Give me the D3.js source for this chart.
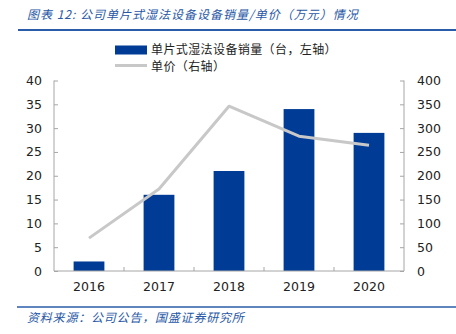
<!DOCTYPE html>
<html>
<head>
<meta charset="utf-8">
<script src="https://cdn.jsdelivr.net/npm/d3@7"></script>
<style>
  html, body { margin: 0; padding: 0; background: #fff; }
  svg { display: block; }
</style>
</head>
<body>
<svg id="chart" width="456" height="334"></svg>
<script>
// Sales volume (units, left axis) and unit price (10k CNY, right axis)
const years = ["2016", "2017", "2018", "2019", "2020"];
const volume = [2, 16, 21, 34, 29];
const price = [69, 172, 346, 283, 264];
const leftTicks = [0, 5, 10, 15, 20, 25, 30, 35, 40];
const rightTicks = [0, 50, 100, 150, 200, 250, 300, 350, 400];

const titleText = "图表 12:  公司单片式湿法设备设备销量/单价（万元）情况";
const sourceText = "资料来源：公司公告，国盛证券研究所";
const legendBar = "单片式湿法设备销量（台，左轴）";
const legendLine = "单价（右轴）";

const blue = "#003c96";
const gray = "#c8c8c8";
const axisGray = "#a6a6a6";
const titleBlue = "#2757a6";
const cjk = "'Noto Sans CJK SC', sans-serif";
const numFont = "'DejaVu Sans', sans-serif";

const svg = d3.select("#chart");
const plot = { left: 54, right: 404, top: 80.5, bottom: 271 };

const x = d3.scaleBand().domain(years).range([plot.left, plot.right]).paddingInner(0.56).paddingOuter(0.28);
const xc = d3.scalePoint().domain(years).range([plot.left, plot.right]).padding(0.5);
const yL = d3.scaleLinear().domain([0, 40]).range([plot.bottom, plot.top]);
const yR = d3.scaleLinear().domain([0, 400]).range([plot.bottom, plot.top]);

// Header
svg.append("text").attr("x", 27).attr("y", 19)
  .attr("font-family", cjk).attr("font-size", 12).attr("font-style", "italic")
  .attr("letter-spacing", 1).attr("fill", titleBlue).text(titleText);
svg.append("line").attr("x1", 18).attr("x2", 456).attr("y1", 30).attr("y2", 30)
  .attr("stroke", "#2a5caa").attr("stroke-width", 2);

// Bars
svg.append("g").selectAll("rect").data(years).join("rect")
  .attr("x", d => x(d)).attr("width", x.bandwidth())
  .attr("y", (d, i) => yL(volume[i]))
  .attr("height", (d, i) => plot.bottom - yL(volume[i]))
  .attr("fill", blue);

// Price line
svg.append("path")
  .datum(years.map((d, i) => [xc(d), yR(price[i])]))
  .attr("d", d3.line())
  .attr("fill", "none").attr("stroke", gray).attr("stroke-width", 3)
  .attr("stroke-linejoin", "round");

// Axes
const gL = svg.append("g").attr("transform", `translate(${plot.left},0)`)
  .call(d3.axisRight(yL).tickValues(leftTicks).tickSize(4).tickFormat(d3.format("d")));
gL.selectAll("text").attr("x", -12).attr("text-anchor", "end");
const gR = svg.append("g").attr("transform", `translate(${plot.right},0)`)
  .call(d3.axisLeft(yR).tickValues(rightTicks).tickSize(4).tickFormat(d3.format("d")));
gR.selectAll("text").attr("x", 13).attr("text-anchor", "start");
const gB = svg.append("g").attr("transform", `translate(0,${plot.bottom})`)
  .call(d3.axisBottom(x).tickSize(0));
gB.selectAll("text").attr("y", 11).attr("dy", "0.71em");
// category separators on the x axis
gB.selectAll(".sep").data(years.slice(1)).join("line")
  .attr("class", "sep")
  .attr("x1", d => xc(d) - xc.step() / 2).attr("x2", d => xc(d) - xc.step() / 2)
  .attr("y1", 0).attr("y2", -4).attr("stroke", axisGray);

[gL, gR, gB].forEach(g => {
  g.selectAll(".domain").attr("stroke", axisGray);
  g.selectAll(".tick line").attr("stroke", axisGray);
  g.selectAll("text").attr("font-family", numFont).attr("font-size", 12.5).attr("fill", "#222");
});
gL.select(".domain").attr("d", `M0,${plot.top}V${plot.bottom}`);
gR.select(".domain").attr("d", `M0,${plot.top}V${plot.bottom}`);
gB.select(".domain").attr("d", `M${plot.left},0H${plot.right}`);

// Legend
const lg = svg.append("g");
lg.append("rect").attr("x", 115).attr("y", 45.5).attr("width", 32).attr("height", 9).attr("fill", blue);
lg.append("text").attr("x", 151).attr("y", 54).attr("font-family", cjk).attr("font-size", 12)
  .attr("letter-spacing", 0.4).attr("fill", "#222").text(legendBar);
lg.append("line").attr("x1", 115).attr("x2", 147).attr("y1", 65.5).attr("y2", 65.5)
  .attr("stroke", gray).attr("stroke-width", 3);
lg.append("text").attr("x", 151).attr("y", 70.5).attr("font-family", cjk).attr("font-size", 12)
  .attr("letter-spacing", 0.4).attr("fill", "#222").text(legendLine);

// Footer
svg.append("line").attr("x1", 17).attr("x2", 456).attr("y1", 307).attr("y2", 307)
  .attr("stroke", "#2a5caa").attr("stroke-width", 1.5);
svg.append("text").attr("x", 27).attr("y", 322)
  .attr("font-family", cjk).attr("font-size", 12).attr("font-style", "italic")
  .attr("letter-spacing", 0.8).attr("fill", titleBlue).text(sourceText);
</script>
</body>
</html>
